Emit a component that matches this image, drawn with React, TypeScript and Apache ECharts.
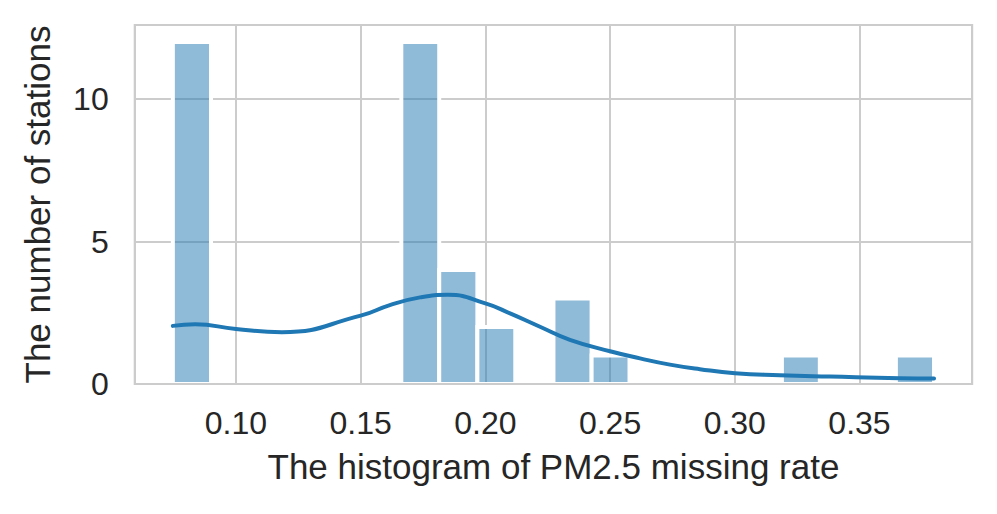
import React, { useEffect, useRef } from "react";
import * as echarts from "echarts";

// Histogram bin edges (20 bins) and station counts per bin
const binEdges = [
  0.0747, 0.09, 0.1052, 0.1205, 0.1357, 0.151, 0.1663, 0.1815, 0.1968, 0.212,
  0.2273, 0.2426, 0.2578, 0.2731, 0.2883, 0.3036, 0.3189, 0.3341, 0.3494,
  0.3646, 0.3799,
];
const counts = [12, 0, 0, 0, 0, 0, 12, 4, 2, 0, 3, 1, 0, 0, 0, 0, 1, 0, 0, 1];

// KDE curve (scaled to counts)
const kdeX = [
  0.0747, 0.0836, 0.1, 0.1184, 0.15, 0.1617, 0.1738, 0.185, 0.2,
  0.2099, 0.2219, 0.2339, 0.2504, 0.262, 0.274, 0.286, 0.3001, 0.3181, 0.3382,
  0.3662, 0.3799,
];
const kdeY = [
  2.04, 2.1, 1.93, 1.82, 2.4, 2.77, 3.04, 3.13, 2.83, 2.48, 2.01, 1.55,
  1.14, 0.9, 0.68, 0.52, 0.38, 0.31, 0.26, 0.2, 0.19,
];

const xLabel = "The histogram of PM2.5 missing rate";
const yLabel = "The number of stations";

export default function App() {
  const ref = useRef<HTMLDivElement>(null);
  useEffect(() => {
    document.body.style.margin = "0";
    const chart = echarts.init(ref.current!, null, { renderer: "svg" });
    const barData = counts
      .map((c, i) => [binEdges[i], binEdges[i + 1], c])
      .filter((d) => d[2] > 0);
    const font = "'Liberation Sans', Arial, sans-serif";
    const textColor = "#262626";
    chart.setOption({
      animation: false,
      backgroundColor: "#ffffff",
      grid: { left: 134.7, right: 24.8, top: 25, bottom: 130 },
      xAxis: {
        type: "value",
        min: 0.0594,
        max: 0.3952,
        splitNumber: 5,
        axisLine: { show: false },
        axisTick: { show: false },
        splitLine: { show: true, lineStyle: { color: "#cccccc", width: 2 } },
        axisLabel: {
          showMinLabel: false,
          showMaxLabel: false,
          formatter: (v: number) => v.toFixed(2),
          color: textColor,
          fontSize: 32,
          fontFamily: font,
          margin: 23,
        },
        name: xLabel,
        nameLocation: "middle",
        nameGap: 65,
        nameTextStyle: { fontSize: 35, color: textColor, fontFamily: font },
      },
      yAxis: {
        type: "value",
        min: 0,
        max: 12.6,
        interval: 5,
        axisLine: { show: false },
        axisTick: { show: false },
        splitLine: { show: true, lineStyle: { color: "#cccccc", width: 2 } },
        axisLabel: {
          showMaxLabel: false,
          color: textColor,
          fontSize: 32,
          fontFamily: font,
          margin: 26,
        },
        name: yLabel,
        nameLocation: "middle",
        nameGap: 80,
        nameTextStyle: { fontSize: 35, color: textColor, fontFamily: font },
      },
      graphic: [
        {
          type: "rect",
          z: 100,
          silent: true,
          shape: { x: 134.7, y: 25, width: 837.5, height: 359 },
          style: { fill: "none", stroke: "#cccccc", lineWidth: 2 },
        },
      ],
      series: [
        {
          type: "custom",
          data: barData,
          encode: { x: [0, 1], y: 2 },
          renderItem: (params: any, api: any) => {
            const p0 = api.coord([api.value(0), 0]);
            const p1 = api.coord([api.value(1), api.value(2)]);
            return {
              type: "rect",
              shape: {
                x: p0[0],
                y: p1[1],
                width: p1[0] - p0[0],
                height: p0[1] - p1[1],
              },
              style: {
                fill: "rgba(31,119,180,0.5)",
                stroke: "#ffffff",
                lineWidth: 4,
              },
            };
          },
        },
        {
          type: "line",
          data: kdeX.map((x, i) => [x, kdeY[i]]),
          smooth: 0.5,
          showSymbol: false,
          symbol: "none",
          lineStyle: { color: "#1f77b4", width: 4, cap: "round" },
        },
      ],
    });
    return () => chart.dispose();
  }, []);
  return <div ref={ref} style={{ width: 997, height: 514 }} />;
}
